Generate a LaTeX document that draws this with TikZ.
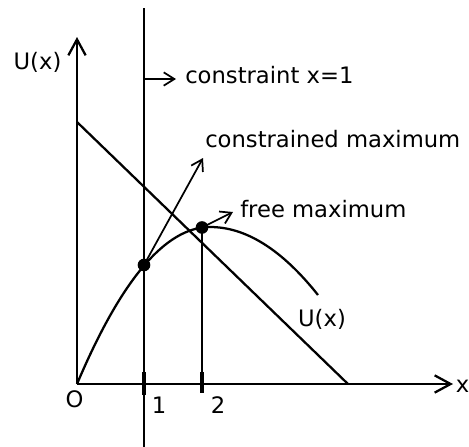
\documentclass[tikz,border=0pt]{standalone}
\usepackage{fontspec}
\setmainfont{DejaVu Sans}
\usetikzlibrary{arrows.meta}
\begin{document}
\begin{tikzpicture}[x=0.75pt,y=-0.75pt,
  line/.style={line width=1.7pt},
  axis/.style={line width=1.7pt,-{Straight Barb[length=12pt,width=13pt,line width=1.7pt]}},
  pointer/.style={line width=1.3pt,-{Straight Barb[length=8pt,width=10pt,line width=1.3pt]}},
  lbl/.style={inner sep=0pt,font=\fontsize{17}{20}\selectfont},
  dot/.style={circle,fill=black,inner sep=0pt,minimum size=9.5pt},
  tick/.style={line width=3.2pt}]
\useasboundingbox (0,0) rectangle (469,447);
% axes
\coordinate (O) at (77,384);
\coordinate (ytop) at (77,37);
\coordinate (xend) at (453,384);
\draw[axis] (O) -- (ytop);
\draw[axis] (O) -- (xend);
\node[lbl,anchor=west] (xlab) at (455.5,386) {x};
\node[lbl] (ulab) at (37.5,62.5) {U(x)};
\node[lbl] (olab) at (74.5,399.5) {O};
\node[lbl] (one) at (159,405) {1};
\node[lbl] (two) at (218,405) {2};
% constraint line
\coordinate (ctop) at (144,8);
\coordinate (cbot) at (144,447);
\draw[line] (ctop) -- (cbot);
% ticks
\coordinate (t1a) at (144,372); \coordinate (t1b) at (144,395);
\coordinate (t2a) at (202,372); \coordinate (t2b) at (202,393);
\draw[tick] (t1a) -- (t1b);
\draw[tick] (t2a) -- (t2b);
% straight line
\coordinate (la) at (77,122);
\coordinate (lb) at (348,384);
\draw[line] (la) -- (lb);
% curve U(x)
\coordinate (peak) at (210,227);
\coordinate (cend2) at (318,295);
\draw[line] (O) .. controls (121.33,279.33) and (165.67,227) .. (peak)
  .. controls (246,227) and (282,249.67) .. (cend2);
% dots
\node[dot] (cmax) at (144,265) {};
\node[dot] (fmax) at (202,227.5) {};
\coordinate (t2bot) at (202,393);
\draw[line] (fmax.center) -- (t2bot);
% labels and pointers
\coordinate (cstart) at (144,79);
\coordinate (cend) at (176,79);
\draw[pointer] (cstart) -- (cend);
\node[lbl,anchor=base west] (clab) at (185,83) {constraint x=1};
\coordinate (cmtip) at (203,158);
\draw[pointer] (cmax.center) -- (cmtip);
\node[lbl,anchor=base west] (cmlab) at (205,147) {constrained maximum};
\coordinate (fmtip) at (233,212);
\draw[pointer] (fmax.center) -- (fmtip);
\node[lbl,anchor=base west] (fmlab) at (240,217) {free maximum};
\node[lbl] (ucurve) at (322,319) {U(x)};
\end{tikzpicture}
\end{document}
